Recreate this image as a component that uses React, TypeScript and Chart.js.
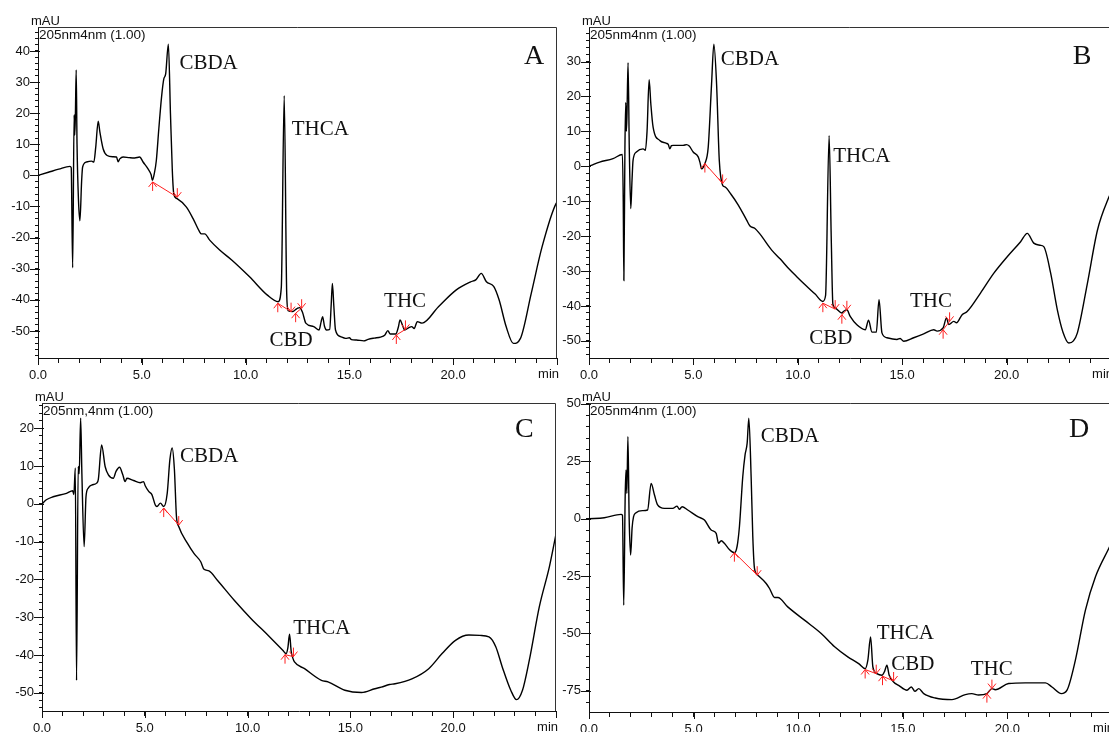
import React, { useEffect, useRef } from 'react';
import { Chart, registerables } from 'chart.js';

Chart.register(...registerables);

// ---------------- Panel A ----------------
const aTime = [0, 0.5, 1.0, 1.54, 1.6, 1.67, 1.74, 1.77, 1.8, 1.84, 1.88, 1.95, 2.02, 2.1, 2.15, 2.34, 2.58, 2.69, 2.78, 2.9, 2.98, 3.14, 3.33, 3.6, 3.78, 3.86, 3.94, 4.1, 4.4, 4.66, 4.9, 5.06, 5.3, 5.45, 5.51, 5.6, 5.7, 5.82, 5.95, 6.06, 6.15, 6.28, 6.38, 6.47, 6.54, 6.7, 7.15, 7.47, 7.79, 7.87, 8.03, 8.27, 8.75, 9.33, 10.19, 11.05, 11.57, 11.72, 11.86, 11.98, 12.05, 12.26, 12.4, 12.51, 12.6, 12.74, 12.9, 13.28, 13.54, 13.64, 13.71, 13.8, 13.9, 14.05, 14.12, 14.18, 14.25, 14.33, 14.57, 14.82, 15.0, 15.1, 15.34, 15.69, 15.9, 16.2, 16.5, 16.71, 16.85, 16.97, 17.23, 17.35, 17.44, 17.55, 17.66, 17.85, 18.0, 18.12, 18.27, 18.5, 19.29, 20.15, 20.84, 21.1, 21.35, 21.6, 21.95, 22.21, 22.55, 22.9, 23.24, 23.76, 24.28, 24.96, 25];
const aSignal = [0, 1.0, 2.0, 2.9, 2.5, -29.7, 19.5, 13, 19, 33.9, 10, -8, -14.6, -2, 2.7, 4.3, 4.6, 4.3, 9, 17.4, 14, 8.5, 6.4, 6.0, 5.9, 4.4, 5.3, 5.9, 5.7, 5.6, 5.9, 4.3, 2.1, 0.2, -1.6, 0.5, 4.8, 15, 25.1, 31, 32.6, 42.2, 20, 1.6, -5.9, -7.5, -10.2, -13.9, -18.2, -18.8, -18.8, -20.8, -24, -27.2, -32.6, -38.5, -40.6, -36, 25.6, -38, -43.5, -43.8, -43.2, -42.7, -42.5, -44, -47.5, -48.6, -49.7, -47, -45.4, -48.5, -49.7, -49.5, -42, -34.7, -42, -49.7, -51.8, -52.4, -52.2, -52.8, -52.9, -53.2, -52.7, -52.3, -52, -51.3, -49.9, -51, -51, -49, -46.5, -48, -49.7, -49, -48.6, -49.2, -47, -47.5, -42.2, -36.8, -34.2, -33.5, -31.5, -34.2, -35.7, -40, -48.6, -54, -52.4, -37.9, -23, -9, -8.8];
const aBaseTime = [5.52, 6.71, 11.55, 12.19, 12.41, 12.7, 17.26, 17.7];
const aBaseSignal = [-2.1, -7.0, -41.1, -43.8, -44.3, -42.7, -51.3, -49.5];
const aPeakNames = ['CBDA', 'THCA', 'CBD', 'THC'];
const aPeakTime = [6.81, 12.22, 11.15, 16.67];
const aPeakSignal = [34.3, 12.9, -55, -42.3];

// ---------------- Panel B ----------------
const bTime = [0, 0.2, 0.51, 1.15, 1.6, 1.64, 1.67, 1.72, 1.76, 1.79, 1.82, 1.87, 1.93, 2.0, 2.06, 2.11, 2.27, 2.59, 2.7, 2.78, 2.88, 2.96, 3.07, 3.39, 3.71, 3.8, 3.87, 3.95, 4.03, 4.51, 4.67, 4.8, 4.99, 5.23, 5.32, 5.39, 5.55, 5.71, 5.87, 5.98, 6.11, 6.24, 6.4, 6.51, 6.8, 7.15, 7.55, 7.71, 7.95, 8.2, 8.75, 9.15, 9.55, 9.95, 10.4, 10.83, 11.2, 11.33, 11.5, 11.6, 11.68, 11.79, 12.11, 12.2, 12.35, 12.51, 12.83, 13.23, 13.39, 13.55, 13.76, 13.89, 14.03, 14.27, 14.75, 14.9, 15.07, 15.55, 16.03, 16.51, 16.67, 16.96, 17.12, 17.23, 17.47, 17.6, 17.87, 18.11, 18.75, 19.39, 20.03, 20.67, 20.99, 21.3, 21.6, 21.78, 22.11, 22.43, 22.7, 22.98, 23.2, 23.39, 23.87, 24.35, 24.9, 25];
const bSignal = [0, 0.5, 1.2, 2.2, 3.4, -10, -32.7, 5, 18.3, 10, 15, 29.7, 5, -12.1, -4, 1.7, 4.1, 5, 4.6, 10, 24.8, 18, 11.2, 7.4, 6.6, 6.2, 5.0, 5.9, 6, 6, 6.2, 5.8, 4.1, 2.7, 1, -0.7, 0.8, 5.5, 23.6, 35, 23.6, 1.7, -5.4, -5.9, -8, -11.1, -15.4, -17.1, -17.8, -19.5, -24, -26.5, -29.2, -31.6, -34.2, -36.6, -38.7, -37, 8.8, -20, -39.5, -40.6, -42, -41.5, -41.1, -43, -45.4, -46.8, -44.1, -47.5, -47.5, -38.2, -47.7, -49.1, -49.6, -49.3, -50.1, -49.1, -48, -46.8, -47.2, -46.3, -43.4, -45.3, -44.4, -44.8, -42.5, -41.6, -36.3, -30.6, -25.9, -21.6, -19.2, -22, -22.6, -23, -30.6, -41.1, -47.5, -50.6, -50, -47.7, -33.5, -18.3, -8.8, -7.5];
const bBaseTime = [5.55, 6.4, 11.2, 11.79, 12.11, 12.35, 16.96, 17.27];
const bBaseSignal = [0.8, -4.9, -39.2, -40.9, -42.5, -41.1, -46.8, -44.4];
const bPeakNames = ['CBDA', 'THCA', 'CBD', 'THC'];
const bPeakTime = [6.31, 11.7, 10.55, 15.37];
const bPeakSignal = [28.9, 1.2, -50.9, -40.4];

// ---------------- Panel C ----------------
const cTime = [0, 0.21, 0.54, 1.19, 1.49, 1.55, 1.62, 1.68, 1.76, 1.81, 1.88, 1.94, 2.05, 2.14, 2.25, 2.42, 2.66, 2.74, 2.9, 3.07, 3.23, 3.47, 3.6, 3.77, 3.93, 4.04, 4.13, 4.45, 4.78, 4.94, 5.02, 5.19, 5.35, 5.51, 5.59, 5.76, 5.92, 6.09, 6.22, 6.33, 6.44, 6.54, 6.65, 7.07, 7.39, 7.72, 7.88, 8.12, 8.53, 9.35, 10.16, 10.98, 11.71, 11.87, 11.96, 12.04, 12.12, 12.2, 12.28, 12.77, 13.59, 13.91, 14.73, 15.54, 16.19, 16.5, 16.9, 17.17, 17.99, 18.81, 19.46, 20.11, 20.76, 21.3, 21.74, 22.07, 22.39, 22.8, 23.08, 23.37, 23.7, 24.19, 24.68, 25];
const cSignal = [0, 1.1, 1.9, 2.8, 3.5, 2.5, 9.5, -46.7, 9.9, 8, 22.7, 8, -11.3, 1.9, 4.2, 5, 5.5, 6.5, 15.6, 9.9, 7.7, 6.8, 8.6, 9.7, 7.7, 5.9, 6.8, 6.2, 5.6, 5.9, 4.8, 3.3, 2.4, -0.3, -0.7, 0.2, -0.7, 2.8, 11.7, 14.8, 9.1, -3.4, -6, -10.4, -13.1, -15.3, -17.3, -17.7, -20.2, -25.5, -30.3, -34.7, -38.7, -39.6, -38, -34.5, -39, -40.8, -41.8, -43.6, -46.7, -47.1, -49.3, -49.9, -48.9, -48.5, -47.8, -47.6, -46.3, -43.6, -39.6, -36.1, -34.7, -34.8, -35.2, -37.8, -43.2, -49.3, -51.8, -49.3, -41.4, -27.2, -16.6, -8];
const cBaseTime = [5.92, 6.65, 11.82, 12.23];
const cBaseSignal = [-1.1, -5.6, -39.9, -40.4];
const cPeakNames = ['CBDA', 'THCA'];
const cPeakTime = [6.71, 12.22];
const cPeakSignal = [11.2, -34.5];

// ---------------- Panel D ----------------
const dTime = [0, 0.73, 1.53, 1.6, 1.66, 1.73, 1.77, 1.81, 1.86, 1.92, 1.99, 2.06, 2.13, 2.25, 2.56, 2.8, 2.97, 3.13, 3.28, 3.6, 4.0, 4.21, 4.32, 4.45, 4.72, 5.2, 5.52, 5.84, 6.08, 6.19, 6.32, 6.48, 6.71, 6.95, 7.08, 7.19, 7.35, 7.46, 7.56, 7.64, 7.75, 7.83, 7.91, 8.07, 8.47, 8.63, 8.87, 9.03, 9.5, 10.3, 11.1, 11.74, 12.37, 12.89, 13.2, 13.33, 13.46, 13.57, 13.76, 14.0, 14.13, 14.24, 14.35, 14.56, 14.8, 15.2, 15.41, 15.58, 15.76, 16.0, 16.55, 17.35, 17.99, 18.3, 18.62, 19.02, 19.26, 19.42, 20.06, 20.86, 21.82, 22.13, 22.58, 22.85, 23.25, 23.73, 24.21, 24.85, 25];
const dSignal = [0, 0.4, 1.9, 1.5, -37.7, 10, 21.2, 11, 35.8, 0, -15.8, -4, 0.9, 2.6, 3.5, 3.8, 15.4, 10.3, 6, 4.5, 4.5, 5.5, 4.1, 5.2, 3.8, 0.9, -0.6, -4.9, -6.4, -10.7, -9.6, -10.8, -13.4, -14.8, -12, -3.5, 18.3, 27.8, 32.9, 43.8, 18.3, -7.9, -21.6, -24.6, -28.2, -30.4, -34.3, -34.3, -38.4, -44.2, -50, -55.8, -60.2, -63.1, -65.3, -61.6, -51.5, -64.6, -67.5, -68.2, -66.5, -63.8, -68.2, -71.1, -72.6, -74.7, -73.3, -75.2, -74, -76.2, -78.1, -78.8, -76.6, -76.2, -76.8, -76.2, -74, -74.5, -71.8, -71.5, -71.5, -73.3, -76.2, -74.7, -61.6, -39.8, -25.3, -12.9, -10];
const dBaseTime = [6.95, 8.04, 13.2, 13.73, 14.03, 14.56, 19.02, 19.26];
const dBaseSignal = [-14.8, -24.6, -65.7, -67.5, -68.6, -70.7, -76.2, -74];
const dPeakNames = ['CBDA', 'THCA', 'CBD', 'THC'];
const dPeakTime = [8.21, 13.75, 14.45, 18.25];
const dPeakSignal = [33.6, -52.6, -65.7, -68.2];

// panel letters, header texts, axis ranges
const panelLetters = ['A', 'B', 'C', 'D'];
const letterTime = [23.41, 23.17, 23.0, 22.94];
const letterSignal = [35.9, 29.4, 17.7, 35.8];
const headerTexts = ['205nm4nm (1.00)', '205nm4nm (1.00)', '205nm,4nm (1.00)', '205nm4nm (1.00)'];
const yMinValues = [-58.7, -54.9, -54.8, -84.2];
const yMaxValues = [47.7, 39.9, 26.7, 50.4];
const yMinorSteps = [2, 2, 2, 5];
const yMajorSteps = [10, 10, 10, 25];
const xTickLabels = ['0.0', '5.0', '10.0', '15.0', '20.0'];

const RED = '#ff1f1f';
const SANS = '"Liberation Sans", Arial, sans-serif';
const SERIF = '"Liberation Serif", "Times New Roman", serif';

const decorPlugin = {
  id: 'decor',
  afterDatasetsDraw(chart: any) {
    const ctx = chart.ctx;
    ctx.save();
    ctx.strokeStyle = RED;
    ctx.lineWidth = 1;
    chart.data.datasets.forEach((ds: any, i: number) => {
      if (!ds.baseline) return;
      const pts = chart.getDatasetMeta(i).data;
      const s = pts[0];
      const e = pts[1];
      ctx.beginPath();
      ctx.moveTo(s.x, s.y);
      ctx.lineTo(s.x, s.y + 9);
      ctx.moveTo(s.x - 4, s.y + 5);
      ctx.lineTo(s.x, s.y);
      ctx.lineTo(s.x + 4, s.y + 5);
      ctx.moveTo(e.x, e.y);
      ctx.lineTo(e.x, e.y - 9);
      ctx.moveTo(e.x - 4, e.y - 5);
      ctx.lineTo(e.x, e.y);
      ctx.lineTo(e.x + 4, e.y - 5);
      ctx.stroke();
    });
    ctx.restore();
  },
  afterDraw(chart: any) {
    const o = chart.options.plugins.decor;
    const ctx = chart.ctx;
    const a = chart.chartArea;
    const xs = chart.scales.x;
    const ys = chart.scales.y;
    const L = Math.round(a.left);
    const R = Math.round(a.right);
    const T = Math.round(a.top);
    const B = Math.round(a.bottom);
    ctx.save();
    // frame (top + right)
    ctx.strokeStyle = '#333';
    ctx.lineWidth = 1;
    ctx.beginPath();
    ctx.moveTo(L, T + 0.5);
    ctx.lineTo(R - 0.5, T + 0.5);
    ctx.lineTo(R - 0.5, B);
    ctx.stroke();
    // major ticks
    ctx.strokeStyle = '#111';
    ctx.beginPath();
    ys.ticks.forEach((t: any) => {
      if (Math.abs(t.value % o.yMajor) < 1e-9) {
        const y = Math.round(ys.getPixelForValue(t.value)) + 0.5;
        ctx.moveTo(L - 8, y);
        ctx.lineTo(L + 2, y);
      }
    });
    xs.ticks.forEach((t: any) => {
      if (Math.abs(t.value % 5) < 1e-9) {
        const x = Math.round(xs.getPixelForValue(t.value)) + 0.5;
        ctx.moveTo(x, B);
        ctx.lineTo(x, B + 7);
      }
    });
    ctx.stroke();
    // sans texts
    ctx.fillStyle = '#111';
    ctx.font = `13px ${SANS}`;
    ctx.textBaseline = 'alphabetic';
    ctx.textAlign = 'left';
    ctx.fillText('mAU', L - 7, T - 2);
    ctx.font = `13.5px ${SANS}`;
    ctx.fillText(o.header, L + 1, T + 12);
    ctx.font = `13px ${SANS}`;
    ctx.textAlign = 'right';
    ctx.fillText('min', R + 2, B + 20);
    // peak labels
    ctx.textAlign = 'left';
    ctx.font = `21px ${SERIF}`;
    o.peaks.forEach((p: any) => {
      ctx.fillText(p.name, xs.getPixelForValue(p.x), ys.getPixelForValue(p.y));
    });
    ctx.font = `28px ${SERIF}`;
    ctx.fillText(o.letter, xs.getPixelForValue(o.letterX), ys.getPixelForValue(o.letterY));
    ctx.restore();
  },
};

type PanelSpec = {
  left: number;
  top: number;
  w: number;
  h: number;
  yAxisWidth: number;
  padRight: number;
  padBottom: number;
  time: number[];
  signal: number[];
  baseTime: number[];
  baseSignal: number[];
  peakNames: string[];
  peakTime: number[];
  peakSignal: number[];
  idx: number;
};

const panels: PanelSpec[] = [
  { left: 0, top: 0, w: 580, h: 385, yAxisWidth: 38, padRight: 23, padBottom: 2, time: aTime, signal: aSignal, baseTime: aBaseTime, baseSignal: aBaseSignal, peakNames: aPeakNames, peakTime: aPeakTime, peakSignal: aPeakSignal, idx: 0 },
  { left: 551, top: 0, w: 580, h: 385, yAxisWidth: 38, padRight: 20, padBottom: 2, time: bTime, signal: bSignal, baseTime: bBaseTime, baseSignal: bBaseSignal, peakNames: bPeakNames, peakTime: bPeakTime, peakSignal: bPeakSignal, idx: 1 },
  { left: 0, top: 376, w: 580, h: 380, yAxisWidth: 42, padRight: 24, padBottom: 20, time: cTime, signal: cSignal, baseTime: cBaseTime, baseSignal: cBaseSignal, peakNames: cPeakNames, peakTime: cPeakTime, peakSignal: cPeakSignal, idx: 2 },
  { left: 547, top: 376, w: 585, h: 380, yAxisWidth: 42, padRight: 20, padBottom: 19, time: dTime, signal: dSignal, baseTime: dBaseTime, baseSignal: dBaseSignal, peakNames: dPeakNames, peakTime: dPeakTime, peakSignal: dPeakSignal, idx: 3 },
];

function Panel({ spec }: { spec: PanelSpec }) {
  const ref = useRef<HTMLCanvasElement>(null);
  useEffect(() => {
    const i = spec.idx;
    const baselineSets: any[] = [];
    for (let k = 0; k + 1 < spec.baseTime.length; k += 2) {
      baselineSets.push({
        data: [
          { x: spec.baseTime[k], y: spec.baseSignal[k] },
          { x: spec.baseTime[k + 1], y: spec.baseSignal[k + 1] },
        ],
        borderColor: RED,
        borderWidth: 1,
        pointRadius: 0,
        order: 0,
        baseline: true,
      });
    }
    const chart = new Chart(ref.current as HTMLCanvasElement, {
      type: 'line',
      data: {
        datasets: [
          ...baselineSets,
          {
            data: spec.time.map((t, k) => ({ x: t, y: spec.signal[k] })),
            borderColor: '#000',
            borderWidth: 1.4,
            pointRadius: 0,
            cubicInterpolationMode: 'monotone',
            fill: false,
            order: 1,
          },
        ],
      } as any,
      options: {
        animation: false,
        responsive: false,
        maintainAspectRatio: false,
        events: [],
        layout: { padding: { top: 27, left: 0, right: spec.padRight, bottom: spec.padBottom } },
        plugins: {
          legend: { display: false },
          tooltip: { enabled: false },
          decor: {
            header: headerTexts[i],
            letter: panelLetters[i],
            letterX: letterTime[i],
            letterY: letterSignal[i],
            yMajor: yMajorSteps[i],
            peaks: spec.peakNames.map((n, k) => ({ name: n, x: spec.peakTime[k], y: spec.peakSignal[k] })),
          },
        } as any,
        scales: {
          x: {
            type: 'linear',
            min: 0,
            max: 25,
            afterFit: (s: any) => {
              s.height = 25;
            },
            border: { display: true, color: '#111', width: 1 },
            grid: { display: true, drawOnChartArea: false, drawTicks: true, tickLength: 5, color: '#111' },
            ticks: {
              stepSize: 1,
              autoSkip: false,
              maxRotation: 0,
              minRotation: 0,
              maxTicksLimit: 1000,
              includeBounds: false,
              padding: 5,
              color: '#111',
              font: { family: SANS, size: 13 },
              callback: (v: any) => {
                const n = Number(v);
                if (n % 5 === 0 && n < 25) return xTickLabels[n / 5];
                return '';
              },
            },
          },
          y: {
            type: 'linear',
            min: yMinValues[i],
            max: yMaxValues[i],
            afterFit: (s: any) => {
              s.width = spec.yAxisWidth;
            },
            border: { display: true, color: '#111', width: 1 },
            grid: { display: true, drawOnChartArea: false, drawTicks: true, tickLength: 3, color: '#111' },
            ticks: {
              stepSize: yMinorSteps[i],
              autoSkip: false,
              maxTicksLimit: 1000,
              includeBounds: false,
              padding: 5,
              color: '#111',
              font: { family: SANS, size: 13 },
              callback: (v: any) => {
                const n = Math.round(Number(v) * 1000) / 1000;
                return n % yMajorSteps[i] === 0 ? String(n) : '';
              },
            },
          },
        },
      } as any,
      plugins: [decorPlugin],
    });
    return () => chart.destroy();
  }, [spec]);
  return (
    <canvas
      ref={ref}
      width={spec.w}
      height={spec.h}
      style={{ position: 'absolute', left: spec.left, top: spec.top, width: spec.w, height: spec.h }}
    />
  );
}

export default function App() {
  return (
    <div
      style={{
        position: 'fixed',
        left: 0,
        top: 0,
        width: 1109,
        height: 732,
        overflow: 'hidden',
        background: '#fff',
      }}
    >
      {panels.map((p) => (
        <Panel key={p.idx} spec={p} />
      ))}
    </div>
  );
}
